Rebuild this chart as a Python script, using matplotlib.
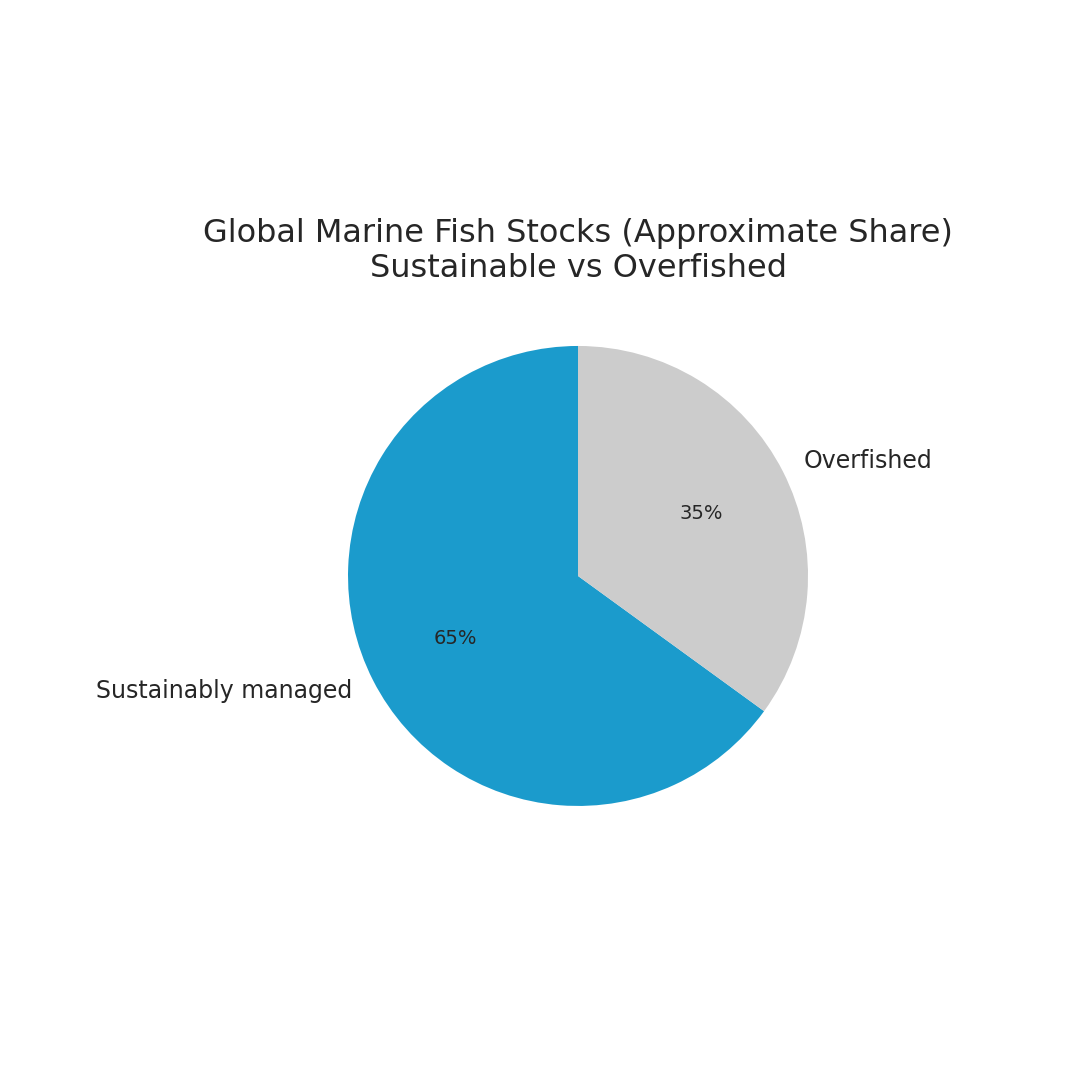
import matplotlib
matplotlib.use("Agg")
import matplotlib.pyplot as plt

# data
labels = ["Sustainably managed", "Overfished"]
shares = [65, 35]
colors = ["#1b9bcc", "#cccccc"]

plt.rcParams['font.family'] = ['DejaVu Sans']
plt.rcParams['text.color'] = '#262626'

fig = plt.figure(figsize=(10.8, 10.8), dpi=100)
ax = fig.add_axes([0.269, 0.2005, 0.5324, 0.5324])

wedges, texts, autotexts = ax.pie(shares, labels=labels, colors=colors,
                                  autopct='%.0f%%', startangle=90,
                                  textprops={'fontsize': 17, 'color': '#262626'})
for t in autotexts:
    t.set_fontsize(14)

ax.set_title("Global Marine Fish Stocks (Approximate Share)\nSustainable vs Overfished",
             fontsize=23, color='#262626', pad=8)

fig.savefig("out.png", dpi=100)
